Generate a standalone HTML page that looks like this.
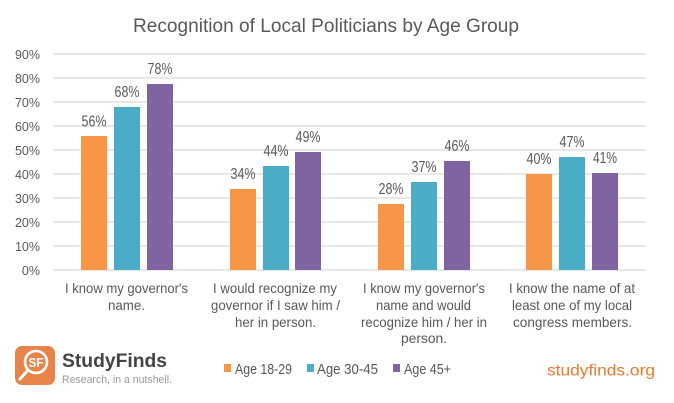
<!DOCTYPE html>
<html>
<head>
<meta charset="utf-8">
<style>
html,body{margin:0;padding:0;background:#fff;}
svg{display:block;}
text{font-family:"Liberation Sans",sans-serif;}
</style>
</head>
<body>
<svg width="674" height="403" viewBox="0 0 674 403" xmlns="http://www.w3.org/2000/svg">
<rect width="674" height="403" fill="#fff"/>
<!-- title -->
<text x="133" y="32" font-size="19" fill="#595959" textLength="386" lengthAdjust="spacingAndGlyphs">Recognition of Local Politicians by Age Group</text>
<!-- gridlines -->
<g stroke="#D9D9D9" stroke-width="1.2">
<line x1="53" y1="54" x2="646" y2="54"/>
<line x1="53" y1="78" x2="646" y2="78"/>
<line x1="53" y1="102" x2="646" y2="102"/>
<line x1="53" y1="126" x2="646" y2="126"/>
<line x1="53" y1="150" x2="646" y2="150"/>
<line x1="53" y1="174" x2="646" y2="174"/>
<line x1="53" y1="198" x2="646" y2="198"/>
<line x1="53" y1="222" x2="646" y2="222"/>
<line x1="53" y1="246" x2="646" y2="246"/>
<line x1="53" y1="270" x2="646" y2="270"/>
</g>
<!-- y axis labels -->
<g font-size="12.5" fill="#595959" text-anchor="end">
<text x="40" y="59">90%</text>
<text x="40" y="83">80%</text>
<text x="40" y="107">70%</text>
<text x="40" y="131">60%</text>
<text x="40" y="155">50%</text>
<text x="40" y="179">40%</text>
<text x="40" y="203">30%</text>
<text x="40" y="227">20%</text>
<text x="40" y="251">10%</text>
<text x="40" y="275">0%</text>
</g>
<!-- bars -->
<g>
<rect x="81" y="136" width="26" height="134" fill="#F79646"/>
<rect x="114" y="107" width="26" height="163" fill="#4BACC6"/>
<rect x="147" y="84" width="26" height="186" fill="#8064A2"/>

<rect x="230" y="189" width="26" height="81" fill="#F79646"/>
<rect x="263" y="166" width="26" height="104" fill="#4BACC6"/>
<rect x="295" y="152" width="26" height="118" fill="#8064A2"/>

<rect x="378" y="204" width="26" height="66" fill="#F79646"/>
<rect x="411" y="182" width="26" height="88" fill="#4BACC6"/>
<rect x="444" y="161" width="26" height="109" fill="#8064A2"/>

<rect x="526" y="174" width="26" height="96" fill="#F79646"/>
<rect x="559" y="157" width="26" height="113" fill="#4BACC6"/>
<rect x="592" y="173" width="26" height="97" fill="#8064A2"/>
</g>
<!-- data labels -->
<g font-size="16" fill="#595959">
<text x="81.5" y="126.5" textLength="25" lengthAdjust="spacingAndGlyphs">56%</text>
<text x="114.5" y="97" textLength="25" lengthAdjust="spacingAndGlyphs">68%</text>
<text x="147.5" y="74" textLength="25" lengthAdjust="spacingAndGlyphs">78%</text>

<text x="230.5" y="179" textLength="25" lengthAdjust="spacingAndGlyphs">34%</text>
<text x="263.5" y="156" textLength="25" lengthAdjust="spacingAndGlyphs">44%</text>
<text x="295.5" y="142" textLength="25" lengthAdjust="spacingAndGlyphs">49%</text>

<text x="378.5" y="194" textLength="25" lengthAdjust="spacingAndGlyphs">28%</text>
<text x="411.5" y="172" textLength="25" lengthAdjust="spacingAndGlyphs">37%</text>
<text x="444.5" y="151" textLength="25" lengthAdjust="spacingAndGlyphs">46%</text>

<text x="526.5" y="164" textLength="25" lengthAdjust="spacingAndGlyphs">40%</text>
<text x="559.5" y="147" textLength="25" lengthAdjust="spacingAndGlyphs">47%</text>
<text x="593" y="163" textLength="24" lengthAdjust="spacingAndGlyphs">41%</text>
</g>
<!-- category labels -->
<g font-size="14" fill="#595959">
<text x="65" y="293" textLength="123" lengthAdjust="spacingAndGlyphs">I know my governor's</text>
<text x="108" y="310" textLength="37" lengthAdjust="spacingAndGlyphs">name.</text>

<text x="213" y="293" textLength="124" lengthAdjust="spacingAndGlyphs">I would recognize my</text>
<text x="211" y="310" textLength="129" lengthAdjust="spacingAndGlyphs">governor if I saw him /</text>
<text x="235" y="327" textLength="81" lengthAdjust="spacingAndGlyphs">her in person.</text>

<text x="363" y="293" textLength="122" lengthAdjust="spacingAndGlyphs">I know my governor's</text>
<text x="376" y="310" textLength="95" lengthAdjust="spacingAndGlyphs">name and would</text>
<text x="361" y="327" textLength="126" lengthAdjust="spacingAndGlyphs">recognize him / her in</text>
<text x="401" y="343" textLength="46" lengthAdjust="spacingAndGlyphs">person.</text>

<text x="509" y="293" textLength="126" lengthAdjust="spacingAndGlyphs">I know the name of at</text>
<text x="512" y="310" textLength="120" lengthAdjust="spacingAndGlyphs">least one of my local</text>
<text x="513" y="327" textLength="119" lengthAdjust="spacingAndGlyphs">congress members.</text>
</g>
<!-- legend -->
<rect x="224" y="364" width="7" height="8" fill="#F79646"/>
<text x="235" y="374" font-size="15" fill="#595959" textLength="57" lengthAdjust="spacingAndGlyphs">Age 18-29</text>
<rect x="307" y="364" width="7" height="8" fill="#4BACC6"/>
<text x="317" y="374" font-size="15" fill="#595959" textLength="61" lengthAdjust="spacingAndGlyphs">Age 30-45</text>
<rect x="393" y="364" width="7" height="8" fill="#8064A2"/>
<text x="404" y="374" font-size="15" fill="#595959" textLength="47" lengthAdjust="spacingAndGlyphs">Age 45+</text>
<!-- studyfinds.org -->
<text x="547" y="375.5" font-size="16" fill="#E8792A" textLength="108" lengthAdjust="spacingAndGlyphs">studyfinds.org</text>
<!-- logo -->
<rect x="15" y="346" width="40" height="39" rx="7" ry="7" fill="#E8844A"/>
<circle cx="36" cy="362" r="11" fill="none" stroke="#fff" stroke-width="2.6"/>
<line x1="28" y1="370" x2="20" y2="379" stroke="#fff" stroke-width="3" stroke-linecap="round"/>
<text x="36" y="367" font-size="13" font-weight="bold" fill="#fff" text-anchor="middle" textLength="15" lengthAdjust="spacingAndGlyphs">SF</text>
<text x="62" y="367" font-size="19" font-weight="bold" fill="#444444" textLength="105" lengthAdjust="spacingAndGlyphs">StudyFinds</text>
<text x="62" y="383" font-size="11" fill="#9A9A9A" textLength="110" lengthAdjust="spacingAndGlyphs">Research, in a nutshell.</text>
</svg>
</body>
</html>
